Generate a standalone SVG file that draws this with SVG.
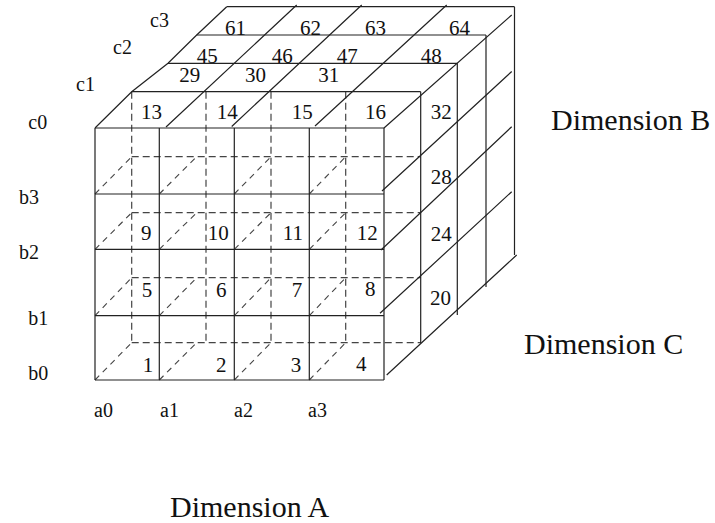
<svg xmlns="http://www.w3.org/2000/svg" width="715" height="523" viewBox="0 0 715 523">
<style>
.s{fill:none;stroke:#222;stroke-width:1.2}
.d{fill:none;stroke:#444;stroke-width:1.2;stroke-dasharray:7 4}
.dd{fill:none;stroke:#444;stroke-width:1.1;stroke-dasharray:6 5}
text{font-family:"Liberation Serif","Times New Roman",serif;fill:#111}
.n{font-size:21px}
.l{font-size:20px}
.t{font-size:30px}
</style>
<rect width="715" height="523" fill="#fff"/>
<g id="back-face">
<path class="d" d="M131.7 91.7V342.7M206 91.7V342.7M271 91.7V342.7M345.7 91.7V342.7"/>
<path class="d" d="M131.7 156.7H420.7M131.7 212.7H420.7M131.7 277.7H420.7M131.7 342.7H420.7"/>
<path class="dd" d="M95 194L131.7 156.7M159.3 194L196.7 156.7M234.3 194L271 156.7M309.3 194L345.7 156.7"/>
<path class="dd" d="M95 249.3L131.7 212.7M159.3 249.3L196.7 212.7M234.3 249.3L271 212.7M309.3 249.3L345.7 212.7"/>
<path class="dd" d="M95 315.7L131.7 277.7M159.3 315.7L196.7 277.7M234.3 315.7L271 277.7M309.3 315.7L345.7 277.7"/>
<path class="dd" d="M95 380L131.7 342.7M159.3 380L196.7 342.7M234.3 380L271 342.7M309.3 380L345.7 342.7"/>
</g>
<g id="front-face">
<path class="s" d="M95 128V380M159.3 128V380M234.3 128V380M309.3 128V380M384 128V380"/>
<path class="s" d="M95 128H384M95 194H384M95 249.3H384M95 315.7H384M95 380H384"/>
</g>
<g id="top-face">
<path class="s" d="M95 128L131.7 91.7L168 63.3L196.7 35L226.7 6.7"/>
<path class="s" d="M131.7 91.7H420.7M168 63.3H457.3M196.7 35H486M226.7 6.7H514.5"/>
<path class="s" d="M166 127L296.7 5M231.7 126.5L361.7 5M315 126L446.7 5"/>
</g>
<g id="right-face">
<path class="s" d="M420.7 91.7V343M457.3 63.3V315M486 35V287M514.5 6.7V255"/>
<path class="s" d="M384 128L511.7 15M382 191L511.7 71.5M381 250L511.7 126.7M380 313.3L511.7 191.7M386.7 375L516.7 255"/>
</g>
<g id="cell-numbers" class="n">
<text x="225" y="35">61</text><text x="300" y="35">62</text><text x="365" y="35">63</text><text x="449" y="35">64</text>
<text x="196.7" y="63.3">45</text><text x="271.7" y="63.3">46</text><text x="336.7" y="63.3">47</text><text x="420.7" y="63.3">48</text>
<text x="179.3" y="81.7">29</text><text x="245" y="81.7">30</text><text x="318.3" y="81.7">31</text>
<text x="141" y="119">13</text><text x="216.7" y="119">14</text><text x="291.7" y="119">15</text><text x="365" y="119">16</text>
<text x="430.7" y="119.3">32</text><text x="430.7" y="183.5">28</text><text x="430.7" y="241">24</text><text x="430" y="305">20</text>
<text x="141" y="240">9</text><text x="207.7" y="240">10</text><text x="282.7" y="240">11</text><text x="356.7" y="240">12</text>
<text x="141.7" y="296.7">5</text><text x="216" y="296.7">6</text><text x="291.7" y="296.7">7</text><text x="365" y="296">8</text>
<text x="142.7" y="371.7">1</text><text x="216" y="371.7">2</text><text x="290.7" y="371.7">3</text><text x="356" y="370.7">4</text>
</g>
<g id="axis-labels" class="l">
<text x="150" y="27">c3</text><text x="113" y="54">c2</text><text x="76" y="91">c1</text><text x="28.3" y="129">c0</text>
<text x="19" y="204">b3</text><text x="19" y="259.3">b2</text><text x="28.3" y="325">b1</text><text x="28.3" y="380">b0</text>
<text x="94" y="417">a0</text><text x="160" y="417">a1</text><text x="234" y="417">a2</text><text x="308" y="417">a3</text>
</g>
<g id="dimension-labels" class="t">
<text x="551" y="130">Dimension B</text>
<text x="524" y="354">Dimension C</text>
<text x="170" y="517">Dimension A</text>
</g>
</svg>
